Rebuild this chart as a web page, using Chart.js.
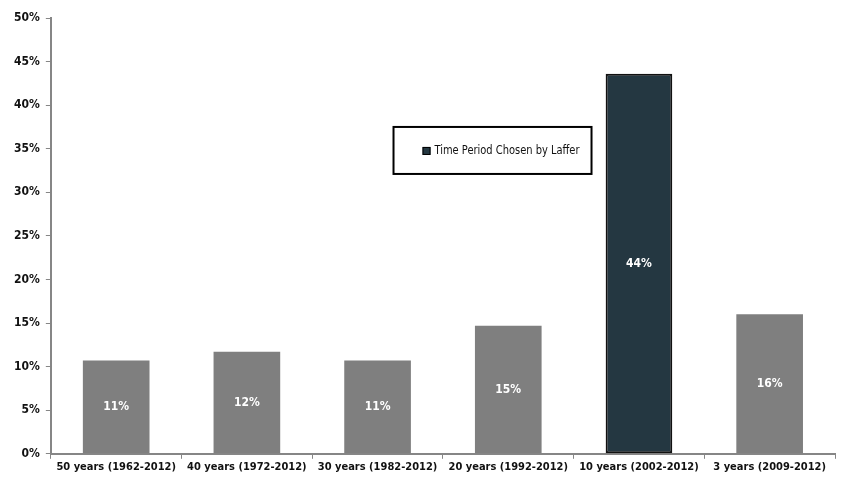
<!DOCTYPE html>
<html>
<head>
<meta charset="utf-8">
<script src="https://cdn.jsdelivr.net/npm/chart.js@4.4.1/dist/chart.umd.min.js"></script>
<style>
  html, body { margin: 0; padding: 0; background: #ffffff; }
  #wrap { width: 841px; height: 479px; }
</style>
</head>
<body>
<div id="wrap"><canvas id="lafferChart" width="841" height="479"></canvas></div>
<script>
// Chart data
const periodLabels = [
  '50 years (1962-2012)',
  '40 years (1972-2012)',
  '30 years (1982-2012)',
  '20 years (1992-2012)',
  '10 years (2002-2012)',
  '3 years (2009-2012)'
];
const periodValues = [10.7, 11.7, 10.7, 14.7, 43.6, 16.0];
const valueLabels = ['11%', '12%', '11%', '15%', '44%', '16%'];
const highlightIndex = 4;
const legendText = 'Time Period Chosen by Laffer';

const colors = {
  gray: '#7f7f7f',
  dark: '#243741',
  axis: '#868686',
  text: '#111111'
};
const fontFamily = "'Liberation Sans Narrow', 'DejaVu Sans Condensed', 'Arial Narrow', sans-serif";

// Writes the rounded value in the middle of each bar
const barValuePlugin = {
  id: 'barValues',
  afterDatasetsDraw(chart) {
    const ctx = chart.ctx;
    const meta = chart.getDatasetMeta(0);
    ctx.save();
    ctx.font = `bold 12px ${fontFamily}`;
    ctx.fillStyle = '#ffffff';
    ctx.textAlign = 'center';
    ctx.textBaseline = 'middle';
    meta.data.forEach((bar, i) => {
      const mid = (bar.y + bar.base) / 2;
      ctx.fillText(valueLabels[i], bar.x, mid);
    });
    ctx.restore();
  }
};

// Floating legend box inside the plot area
const boxLegendPlugin = {
  id: 'boxLegend',
  afterDraw(chart) {
    const ctx = chart.ctx;
    const area = chart.chartArea;
    const x = area.left + (area.right - area.left) * 0.437;
    const y = area.top + (area.bottom - area.top) * 0.25;
    const w = 198, h = 47;
    ctx.save();
    ctx.fillStyle = '#ffffff';
    ctx.fillRect(x, y, w, h);
    ctx.lineWidth = 2;
    ctx.strokeStyle = '#000000';
    ctx.strokeRect(x, y, w, h);
    ctx.fillStyle = colors.dark;
    ctx.fillRect(x + 29, y + 20, 8, 8);
    ctx.lineWidth = 1;
    ctx.strokeRect(x + 29.5, y + 20.5, 7, 7);
    ctx.fillStyle = colors.text;
    ctx.font = `12px ${fontFamily}`;
    ctx.textAlign = 'left';
    ctx.textBaseline = 'middle';
    ctx.fillText(legendText, x + 41, y + 24, 145);
    ctx.restore();
  }
};

const canvas = document.getElementById('lafferChart');
new Chart(canvas, {
  type: 'bar',
  data: {
    labels: periodLabels,
    datasets: [{
      label: legendText,
      data: periodValues,
      backgroundColor: periodValues.map((v, i) => i === highlightIndex ? colors.dark : colors.gray),
      borderColor: periodValues.map((v, i) => i === highlightIndex ? '#111111' : colors.gray),
      borderWidth: periodValues.map((v, i) => i === highlightIndex ? 2 : 0),
      borderSkipped: false,
      barPercentage: 0.51,
      categoryPercentage: 1
    }]
  },
  options: {
    responsive: false,
    animation: false,
    layout: { padding: { top: 18, right: 6, left: 8, bottom: 3 } },
    plugins: {
      legend: { display: false },
      tooltip: { enabled: false }
    },
    scales: {
      x: {
        grid: {
          drawOnChartArea: false,
          drawTicks: true,
          tickLength: 5,
          color: colors.axis,
          offset: true
        },
        border: { color: colors.axis, width: 2 },
        ticks: {
          color: colors.text,
          maxRotation: 0,
          autoSkip: false,
          padding: 2,
          font: { family: fontFamily, size: 11, weight: 'bold' }
        }
      },
      y: {
        min: 0,
        max: 50,
        grid: {
          drawOnChartArea: false,
          drawTicks: true,
          tickLength: 5,
          color: colors.axis
        },
        border: { color: colors.axis, width: 2 },
        ticks: {
          stepSize: 5,
          color: colors.text,
          padding: 6,
          font: { family: fontFamily, size: 12, weight: 'bold' },
          callback: value => value + '%'
        }
      }
    }
  },
  plugins: [barValuePlugin, boxLegendPlugin]
});
</script>
</body>
</html>
